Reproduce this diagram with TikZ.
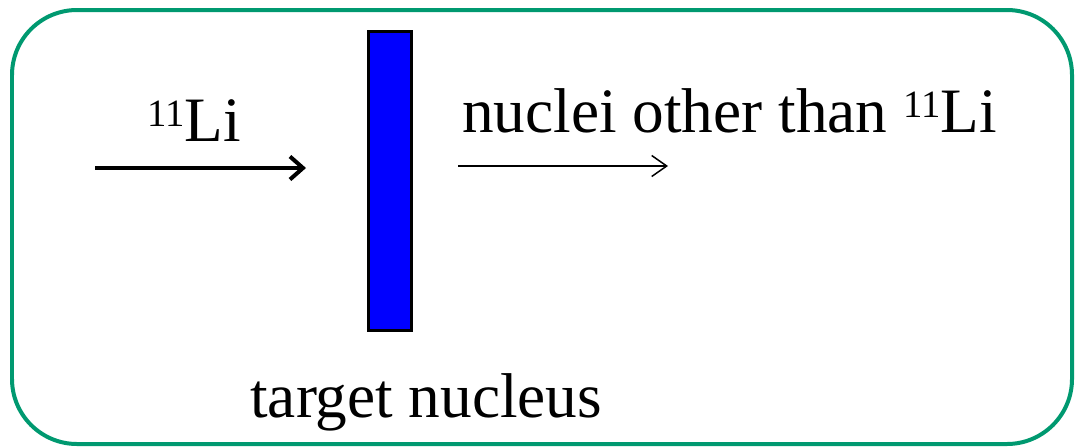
\documentclass[tikz,border=0pt]{standalone}
\usepackage{fontspec}
\setmainfont{Liberation Serif}
\usetikzlibrary{positioning, arrows.meta}

\definecolor{framegreen}{RGB}{0,153,112}
\newcommand{\isotope}[2]{\raisebox{8pt}{\fontsize{22}{22}\selectfont #1}#2}

\begin{document}
\begin{tikzpicture}[x=0.02cm, y=-0.02cm,
	font=\fontsize{36}{43}\selectfont,
	frame/.style={draw=framegreen, line width=0.08cm, rounded corners=1.3cm},
	targetbox/.style={draw, line width=0.06cm, fill=blue, minimum width=0.86cm, minimum height=5.98cm, inner sep=0pt},
	lbl/.style={inner sep=0pt},
	beam/.style={-{Straight Barb[length=0.26cm, width=0.46cm]}, line width=0.08cm},
	outbeam/.style={-{Straight Barb[length=0.3cm, width=0.42cm]}, line width=0.03cm}]
	
	\useasboundingbox (0,0) rectangle (1075,447);
	\draw[frame] (12,10) rectangle (1072,444);
	
	\node[targetbox] (target) at (390,181) {};
	\node[lbl, anchor=base west] (target_lbl) at (250,417) {target nucleus};
	
	% incoming beam
	\coordinate (in_tail) at (95,168);
	\coordinate (in_head) at (306,168);
	\draw[beam] (in_tail) -- (in_head);
	\node[lbl, anchor=base] (in_lbl) at (194,141) {\isotope{11}{Li}};
	
	% outgoing nuclei
	\coordinate (out_tail) at (458,166);
	\coordinate (out_head) at (668,166);
	\draw[outbeam] (out_tail) -- (out_head);
	\node[lbl, anchor=base west] (out_lbl) at (462,132) {nuclei other than \isotope{11}{Li}};
\end{tikzpicture}
\end{document}
